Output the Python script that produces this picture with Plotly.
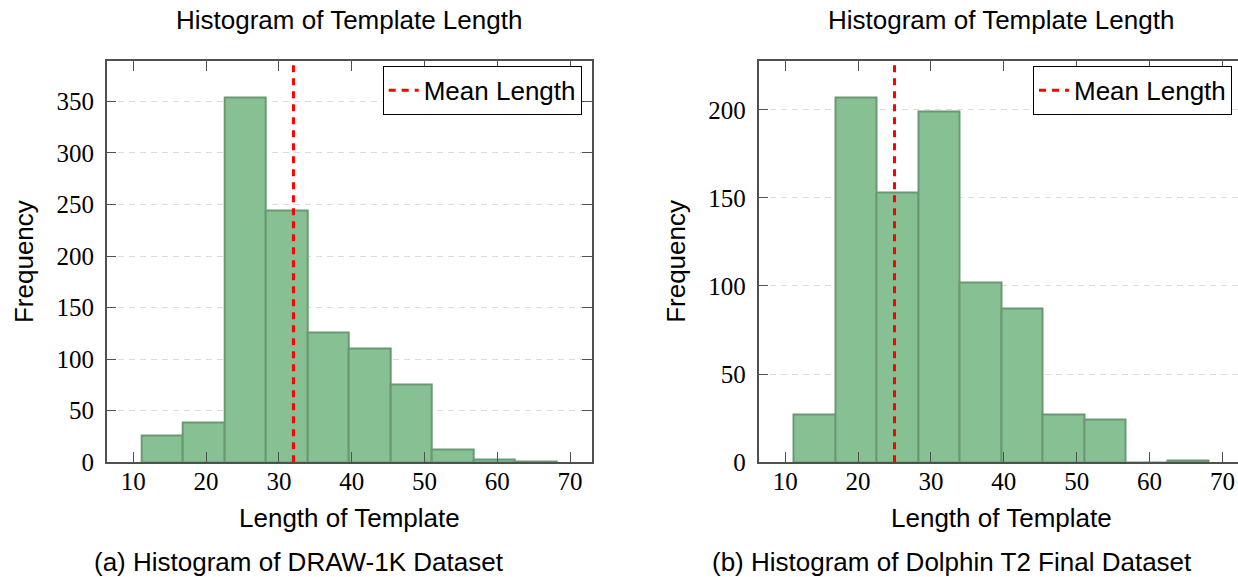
import plotly.graph_objects as go

# ---- data ----
bin_edges = [11.15, 16.85, 22.55, 28.25, 33.95, 39.65, 45.35, 51.05, 56.75, 62.45, 68.15]
draw_counts = [26, 39, 354, 244, 126, 110, 75, 12, 3, 1]
dolphin_counts = [27, 207, 153, 199, 102, 87, 27, 24, 0, 1]
mean_draw = 32.0
mean_dolphin = 25.0
x_ticks = [10, 20, 30, 40, 50, 60, 70]
y_ticks_draw = [0, 50, 100, 150, 200, 250, 300, 350]
y_ticks_dolphin = [0, 50, 100, 150, 200]
panel_title = "Histogram of Template Length"
x_title = "Length of Template"
y_title = "Frequency"
captions = ["(a) Histogram of DRAW-1K Dataset", "(b) Histogram of Dolphin T2 Final Dataset"]
legend_label = "Mean Length"

W, H = 1238, 577
centers = [(a + b) / 2 for a, b in zip(bin_edges[:-1], bin_edges[1:])]
widths = [b - a for a, b in zip(bin_edges[:-1], bin_edges[1:])]

FILL = "rgb(135,192,147)"
EDGE = "rgb(106,152,114)"
AXC = "#505050"
SANS = "Liberation Sans, Arial, sans-serif"
SERIF = "Liberation Serif, Times New Roman, serif"

ymax_draw = 388.7
ymax_dol = 227.4

PLOT_TOP, PLOT_BOT = 63.0, 473.7

fig = go.Figure()
fig.add_trace(go.Bar(x=centers, y=draw_counts, width=widths, marker=dict(color=FILL, line=dict(color=EDGE, width=2)),
                     showlegend=False, xaxis="x", yaxis="y"))
fig.add_trace(go.Scatter(x=[mean_draw, mean_draw], y=[0, ymax_draw], mode="lines", name=legend_label,
                         line=dict(color="#ff0000", width=3, dash="7px,6px"), xaxis="x", yaxis="y", legend="legend"))
fig.add_trace(go.Bar(x=centers, y=dolphin_counts, width=widths, marker=dict(color=FILL, line=dict(color=EDGE, width=2)),
                     showlegend=False, xaxis="x2", yaxis="y2"))
fig.add_trace(go.Scatter(x=[mean_dolphin, mean_dolphin], y=[0, ymax_dol], mode="lines", name=legend_label,
                         line=dict(color="#ff0000", width=3, dash="7px,6px"), xaxis="x2", yaxis="y2", legend="legend2"))

ydom = [1 - PLOT_BOT / H, 1 - PLOT_TOP / H]
common_x = dict(tickvals=x_ticks, ticks="inside", ticklen=10, tickwidth=1, tickcolor=AXC, showline=True,
                linecolor=AXC, linewidth=1.5, showgrid=False, zeroline=False,
                tickfont=dict(family=SERIF, size=25, color="black"), ticklabelstandoff=-4)
common_y = dict(ticks="inside", ticklen=10, tickwidth=1, tickcolor=AXC, showline=True, linecolor=AXC,
                linewidth=1.5, showgrid=True, gridcolor="#dcdcdc", griddash="6px,5px", gridwidth=1,
                zeroline=False, tickfont=dict(family=SERIF, size=25, color="black"), ticklabelstandoff=6)

fig.update_layout(
    width=W, height=H, margin=dict(l=0, r=0, t=0, b=0), plot_bgcolor="white", paper_bgcolor="white",
    bargap=0,
    xaxis=dict(domain=[106.7 / W, 591.7 / W], range=[6.34, 72.98], anchor="y", mirror="ticks", **common_x),
    yaxis=dict(domain=ydom, range=[0, ymax_draw], tickvals=y_ticks_draw, anchor="x", mirror="ticks", **common_y),
    xaxis2=dict(domain=[758.5 / W, 1.0], range=[6.34, 72.13], anchor="y2", mirror="ticks", **common_x),
    yaxis2=dict(domain=ydom, range=[0, ymax_dol], tickvals=y_ticks_dolphin, anchor="x2", mirror=False, **common_y),
    legend=dict(x=581.7 / W, y=1 - 67.5 / H, xanchor="right", yanchor="top", bgcolor="white",
                bordercolor="black", borderwidth=1, font=dict(family=SANS, size=26, color="black")),
    legend2=dict(x=1232 / W, y=1 - 67.5 / H, xanchor="right", yanchor="top", bgcolor="white",
                 bordercolor="black", borderwidth=1, font=dict(family=SANS, size=26, color="black")),
)

ann = []
ymid = (PLOT_TOP + PLOT_BOT) / 2
for cx, ytx in [((106.7 + 591.7) / 2, 24.2), ((758.5 + 1243.8) / 2, 676)]:
    ann.append(dict(text=panel_title, x=cx / W, y=1 - 20.7 / H, xref="paper", yref="paper", showarrow=False,
                    xanchor="center", yanchor="middle", font=dict(family=SANS, size=26, color="black")))
    ann.append(dict(text=x_title, x=cx / W, y=1 - 531 / H, xref="paper", yref="paper", showarrow=False,
                    xanchor="center", yanchor="middle", font=dict(family=SANS, size=26, color="black")))
    ann.append(dict(text=y_title, x=ytx / W, y=1 - ymid / H, xref="paper", yref="paper", showarrow=False,
                    textangle=-90, xanchor="center", yanchor="middle", font=dict(family=SANS, size=26, color="black")))
for cap, cap_x in zip(captions, [299, 951.5]):
    ann.append(dict(text=cap, x=cap_x / W, y=1 - 576 / H, xref="paper", yref="paper", showarrow=False,
                    xanchor="center", yanchor="middle", font=dict(family=SANS, size=26, color="black")))
fig.update_layout(annotations=ann)

post = (
    "document.body.style.margin='0px';document.body.style.overflow='hidden';"
    "document.documentElement.style.overflow='hidden';"
)
fig.write_html("out.html", config={"displayModeBar": False}, post_script=post)
